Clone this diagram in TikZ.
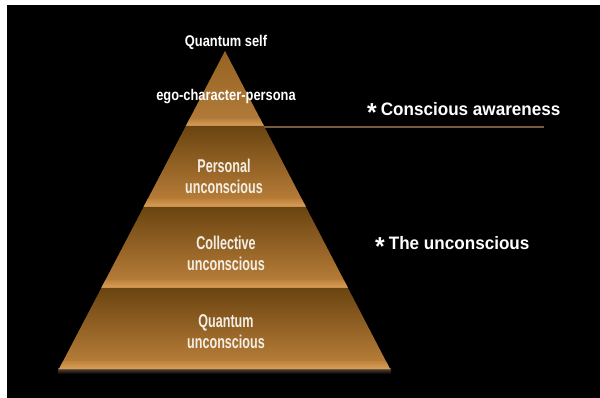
\documentclass[tikz,border=0pt]{standalone}
\usepackage{fontspec}
\setmainfont{Liberation Sans}
\newfontfamily\pyrfont{Liberation Sans}[FakeStretch=0.68]
\newfontfamily\topfont{Liberation Sans}[FakeStretch=0.83]
\newfontfamily\sidefont{Liberation Sans}[FakeStretch=0.95]
\definecolor{tAtop}{HTML}{956322}
\definecolor{tAbot}{HTML}{B47C3A}
\definecolor{ttop}{HTML}{6A4410}
\definecolor{tbot}{HTML}{BE823C}
\definecolor{bandbot}{HTML}{DAA05A}
\definecolor{linecol}{HTML}{7B5A3C}
\definecolor{txt}{HTML}{F4EEE4}
\definecolor{glow}{HTML}{5E5042}
\tikzset{
  pyrlabel/.style={text=txt, align=center, font=\pyrfont\bfseries\fontsize{18.5}{21}\selectfont, inner sep=0pt},
  toplabel/.style={text=white, font=\topfont\bfseries\fontsize{15.5}{18}\selectfont, inner sep=0pt},
  sidelabel/.style={text=white, anchor=west, font=\sidefont\bfseries\fontsize{18}{21}\selectfont, inner sep=0pt},
  divline/.style={draw=linecol, line width=2pt}
}
\newcommand{\bigstar}{\raisebox{-0.32em}{\fontsize{26}{26}\selectfont *}\hspace{4pt}}
\begin{document}
\begin{tikzpicture}[x=1pt,y=-1pt]
\useasboundingbox (0,0) rectangle (600,398);
\fill[white] (0,0) rectangle (600,398);
\fill[black] (7,5) rectangle (600,398);
% glow under the base
\shade[top color=glow, bottom color=black] (58,368) rectangle (391,374);
% tiers
\foreach \ya/\yb/\tc/\bc in {51/126/tAtop/tAbot, 126/207/ttop/tbot, 207/288/ttop/tbot, 288/369/ttop/tbot} {
  \pgfmathsetmacro\xla{225-0.52201*(\ya-51)}
  \pgfmathsetmacro\xra{225+0.51887*(\ya-51)}
  \pgfmathsetmacro\xlb{225-0.52201*(\yb-51)}
  \pgfmathsetmacro\xrb{225+0.51887*(\yb-51)}
  \pgfmathsetmacro\yc{\yb-8}
  \pgfmathsetmacro\xlc{225-0.52201*(\yc-51)}
  \pgfmathsetmacro\xrc{225+0.51887*(\yc-51)}
  \shade[top color=\tc, bottom color=\bc] (\xla,\ya) -- (\xra,\ya) -- (\xrb,\yb) -- (\xlb,\yb) -- cycle;
  \shade[top color=\bc, bottom color=bandbot] (\xlc,\yc) -- (\xrc,\yc) -- (\xrb,\yb) -- (\xlb,\yb) -- cycle;
}
% connector line
\coordinate (lineL) at (264.4,127);
\coordinate (lineR) at (544,127);
\draw[divline] (lineL) -- (lineR);
% labels
\node[toplabel] (qself) at (226,42) {Quantum self};
\node[toplabel] (ego) at (226,97) {ego-character-persona};
\node[pyrlabel] (personal) at (224,176) {Personal\\unconscious};
\node[pyrlabel] (collective) at (226,253) {Collective\\unconscious};
\node[pyrlabel] (quantum) at (226,332) {Quantum\\unconscious};
\node[sidelabel] (conscious) at (367,112) {\bigstar Conscious awareness};
\node[sidelabel] (uncon) at (375,246) {\bigstar The unconscious};
\end{tikzpicture}
\end{document}
